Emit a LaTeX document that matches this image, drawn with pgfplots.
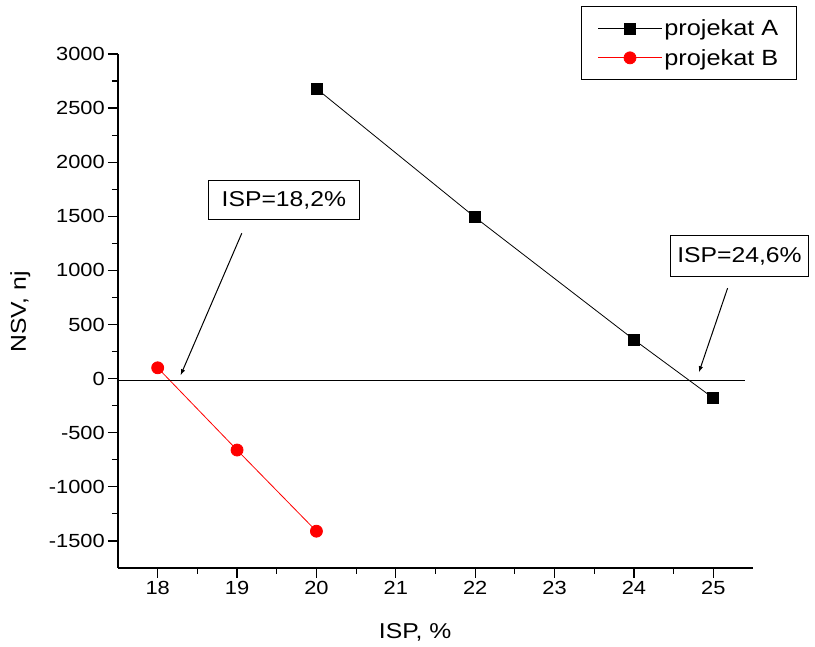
\documentclass[border=0pt]{standalone}
\usepackage{pgfplots}
\pgfplotsset{compat=1.18}
\usepackage{fontspec}
\setmainfont{Liberation Sans}[FakeStretch=1.15]

\begin{document}
\begin{tikzpicture}
\path[use as bounding box] (-118pt,-79pt) rectangle (697pt,568pt);
\begin{axis}[
    at={(0,0)}, anchor=south west,
    width=635pt, height=514pt,
    scale only axis,
    xmin=17.5, xmax=25.5,
    ymin=-1750, ymax=3000,
    xtick={18,19,...,25},
    ytick={-1500,-1000,...,3000},
    minor x tick num=1,
    minor y tick num=1,
    axis x line=bottom,
    axis y line=left,
    axis line style={-, line width=1.4pt},
    tick align=outside,
    major tick length=10pt,
    minor tick length=6pt,
    every tick/.style={black, line width=1.2pt},
    /pgf/number format/assume math mode=true,
    /pgf/number format/1000 sep={},
    ticklabel style={font=\fontsize{19}{22}\selectfont},
    yticklabel style={inner sep=3pt},
    xticklabel style={inner sep=3pt},
    xlabel={ISP, \%},
    ylabel={NSV, nj},
    label style={font=\fontsize{21.5}{25}\selectfont},
    xlabel style={at={(rel axis cs:0.468,-0.126)}, anchor=center},
    ylabel style={at={(rel axis cs:-0.154,0.498)}, anchor=center, rotate=0},
    legend style={
        at={(rel axis cs:1.069,1.093)}, anchor=north east,
        draw=black, line width=1pt,
        font=\fontsize{22}{26}\selectfont,
        inner xsep=16pt, inner ysep=11pt,
        row sep=8pt,
        /tikz/every even column/.append style={column sep=7pt},
    },
    legend cell align=left,
    legend image code/.code={
        \draw[#1, mark repeat=2, mark phase=2]
            plot coordinates {(0pt,0pt) (32pt,0pt) (64pt,0pt)};
    },
    clip=false,
]

% projekat A
\addplot[black, line width=0.8pt, mark=square*, mark size=5.5pt,
    mark options={solid, fill=black}] coordinates {
    (20, 2680)
    (22, 1490)
    (24, 360)
    (25, -180)
};
\addlegendentry{projekat A}

% projekat B
\addplot[red, line width=0.8pt, mark=*, mark size=6pt,
    mark options={solid, fill=red}] coordinates {
    (18, 100)
    (19, -660)
    (20, -1410)
};
\addlegendentry{projekat B}

% zero line
\addplot[black, line width=1pt, forget plot] coordinates {(17.5,-20) (25.4,-20)};

% annotations
\node[draw=black, line width=1pt, fill=white, font=\fontsize{21.5}{25}\selectfont,
    inner xsep=13pt, inner ysep=11pt] (a1) at (axis cs:19.59,1650) {ISP=18,2\%};
\node[draw=black, line width=1pt, fill=white, font=\fontsize{21.5}{25}\selectfont,
    inner xsep=7pt, inner ysep=12pt] (a2) at (axis cs:25.33,1133) {ISP=24,6\%};
\draw[-latex, line width=1pt] (axis cs:19.06,1344) -- (axis cs:18.29,33);
\draw[-latex, line width=1pt] (axis cs:25.18,836) -- (axis cs:24.82,61);

\end{axis}
\end{tikzpicture}
\end{document}
